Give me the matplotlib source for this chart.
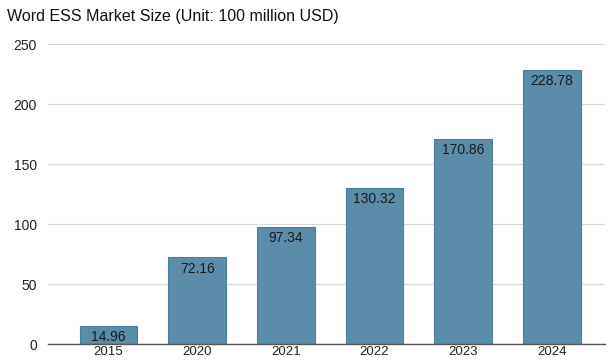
import matplotlib
matplotlib.use('Agg')
from matplotlib import pyplot as plt

years = ['2015', '2020', '2021', '2022', '2023', '2024']
market_size = [14.96, 72.16, 97.34, 130.32, 170.86, 228.78]
y_ticks = [0, 50, 100, 150, 200, 250]

plt.rcParams['font.family'] = ['Liberation Sans', 'DejaVu Sans']

fig = plt.figure(figsize=(6.1, 3.61), dpi=100)
ax = fig.add_axes([0.079, 0.047, 0.913, 0.831])

x = list(range(len(years)))
bars = ax.bar(x, market_size, width=0.65, color='#5b8ca9', edgecolor='#4d7e9b',
              linewidth=0.8, zorder=3)
for rect, val in zip(bars, market_size):
    ax.text(rect.get_x() + rect.get_width() / 2, val - 3.5, f'{val:.2f}',
            ha='center', va='top', fontsize=10, color='#1a1a1a', zorder=4)

ax.set_xlim(-0.68, 5.6)
ax.set_ylim(0, 250)
ax.set_yticks(y_ticks)
ax.set_xticks(x)
ax.set_xticklabels(years)
ax.tick_params(axis='both', length=0, labelsize=10, labelcolor='#222222')
ax.tick_params(axis='y', pad=8)
ax.tick_params(axis='x', pad=1.5, labelsize=9.5)
ax.grid(axis='y', color='#d9d9d9', linewidth=0.9, zorder=0)
for side in ['top', 'right', 'left']:
    ax.spines[side].set_visible(False)
ax.spines['bottom'].set_color('#555555')
ax.spines['bottom'].set_linewidth(1.0)
ax.spines['bottom'].set_zorder(5)

fig.text(0.012, 0.953, 'Word ESS Market Size (Unit: 100 million USD)',
         fontsize=11.5, color='#111111', ha='left', va='center')

fig.savefig('out.png', dpi=100)
